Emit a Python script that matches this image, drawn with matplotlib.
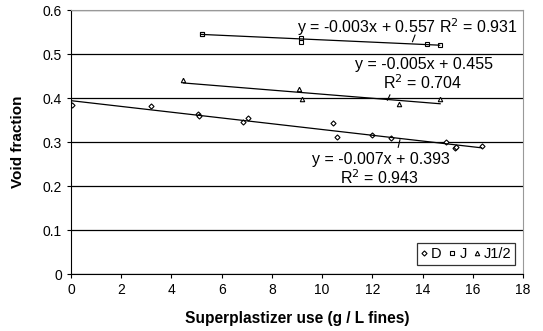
import numpy as np
import matplotlib
matplotlib.use('Agg')
import matplotlib.pyplot as plt

plt.rcParams['font.family'] = ['Liberation Sans', 'DejaVu Sans']

# D series (diamonds)
d_x = [0.05, 3.2, 5.05, 5.1, 6.85, 7.05, 10.45, 10.6, 12.0, 12.75, 14.95, 15.3, 15.33, 16.35]
d_y = [0.384, 0.381, 0.364, 0.358, 0.345, 0.355, 0.343, 0.311, 0.316, 0.308, 0.301, 0.286, 0.288, 0.290]
# J series (squares)
j_x = [5.2, 5.2, 9.14, 9.14, 14.17, 14.68]
j_y = [0.545, 0.546, 0.537, 0.528, 0.523, 0.520]
# J1/2 series (triangles)
jh_x = [4.48, 9.07, 9.18, 13.06, 14.70]
jh_y = [0.440, 0.420, 0.397, 0.386, 0.398]

fig = plt.figure(figsize=(5.43, 3.31), dpi=100)
ax = fig.add_axes([71/543, 1 - 274/331, (523 - 71)/543, (274 - 10)/331])

mk = dict(linestyle='none', markerfacecolor='white', markeredgecolor='black',
          markeredgewidth=0.8, markersize=3.2)
ax.plot(d_x, d_y, marker='D', label='D', **dict(mk, markersize=2.6))
ax.plot(j_x, j_y, marker='s', label='J', **mk)
ax.plot(jh_x, jh_y, marker='^', label='J1/2', **mk)

# linear trendlines
for xs, ys in [(d_x, d_y), (j_x, j_y), (jh_x, jh_y)]:
    xs = np.array(xs); ys = np.array(ys)
    k, b = np.polyfit(xs, ys, 1)
    xx = np.array([xs.min(), xs.max()])
    ax.plot(xx, k * xx + b, color='black', linewidth=0.9)

ax.set_xlim(0, 18)
ax.set_ylim(0, 0.6)
ax.set_xticks(np.arange(0, 19, 2))
ax.set_yticks(np.arange(0, 0.61, 0.1))
ax.set_yticklabels(['0', '0.1', '0.2', '0.3', '0.4', '0.5', '0.6'])
ax.yaxis.grid(True, color='black', linewidth=0.9)
ax.set_axisbelow(True)
ax.tick_params(direction='out', length=3, labelsize=10, width=0.8)
for s in ['top', 'right']:
    ax.spines[s].set_color('#999999')
for s in ['left', 'bottom']:
    ax.spines[s].set_color('black')

ax.set_xlabel('Superplastizer use (g / L fines)', fontsize=11.2, fontweight='bold', labelpad=10)
ax.set_ylabel('Void fraction', fontsize=11, fontweight='bold', labelpad=13)

# trendline equations
fs = 11.5
ax.text(17.8, 0.562, 'y = -0.003x + 0.557 R$^2$ = 0.931', fontsize=fs, ha='right', va='center')
ax.plot([13.6, 13.7], [0.528, 0.543], color='black', linewidth=0.8)
ax.text(16.8, 0.475, 'y = -0.005x + 0.455', fontsize=fs, ha='right', va='center')
ax.text(14.0, 0.434, 'R$^2$ = 0.704', fontsize=fs, ha='center', va='center')
ax.plot([12.6, 12.7], [0.395, 0.407], color='black', linewidth=0.8)
ax.text(12.35, 0.261, 'y = -0.007x + 0.393', fontsize=fs, ha='center', va='center')
ax.text(12.3, 0.218, 'R$^2$ = 0.943', fontsize=fs, ha='center', va='center')
ax.plot([13.03, 13.1], [0.288, 0.305], color='black', linewidth=0.8)

leg = ax.legend(loc='lower right', bbox_to_anchor=(0.983, 0.035), ncol=3, fontsize=10.5,
                frameon=True, fancybox=False, handlelength=0.4, handletextpad=0.3,
                columnspacing=0.5, borderpad=0.25, borderaxespad=0)
leg.get_frame().set_edgecolor('black')
leg.get_frame().set_linewidth(0.9)

fig.savefig('out.png', dpi=100)
